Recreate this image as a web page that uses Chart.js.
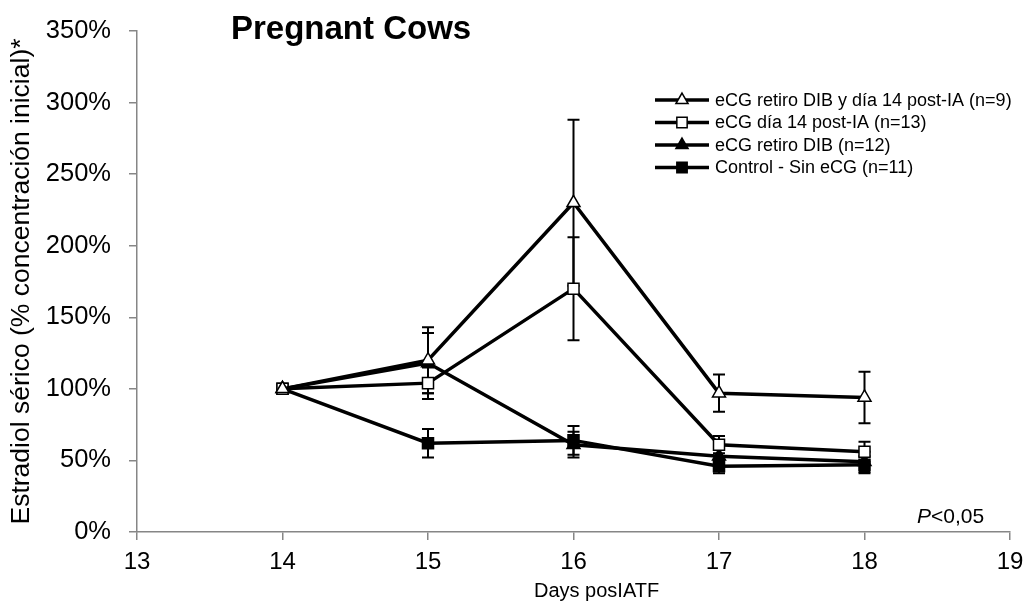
<!DOCTYPE html>
<html>
<head>
<meta charset="utf-8">
<script src="https://cdn.jsdelivr.net/npm/chart.js@4.4.1/dist/chart.umd.min.js"></script>
<style>
  body { margin: 0; background: #fff; font-family: "Liberation Sans", Arial, sans-serif; }
  #wrap { position: relative; width: 1034px; height: 603px; }
  #title { position: absolute; left: 231px; top: 11px; font-size: 33px; line-height: 1; font-weight: bold; color: #000; }
  #pval { position: absolute; left: 917px; top: 505px; font-size: 21px; line-height: 1; color: #000; }
  #xtitle { position: absolute; left: 534px; top: 580px; font-size: 20px; line-height: 1; color: #000; }
</style>
</head>
<body>
<div id="wrap">
  <canvas id="chart" width="1034" height="603"></canvas>
  <div id="title">Pregnant Cows</div>
  <div id="pval"><i>P</i>&lt;0,05</div>
  <div id="xtitle">Days posIATF</div>
</div>
<script>
// Days after IATF
const days = [14, 15, 16, 17, 18];

// Series: % of initial estradiol concentration, with error (+/-)
const seriesNames = [
  'eCG retiro DIB y día 14 post-IA (n=9)',
  'eCG día 14 post-IA (n=13)',
  'eCG retiro DIB (n=12)',
  'Control - Sin eCG (n=11)'
];
const bothValues = [100, 120, 230, 97, 94];
const bothErrors = [0, 23, 58, 13, 18];
const day14Values = [100, 104, 170, 61, 56];
const day14Errors = [0, 11, 36, 6, 7];
const dibValues = [100, 118, 61, 53, 49];
const dibErrors = [0, 21, 9, 7, 7];
const controlValues = [100, 62, 64, 46, 47];
const controlErrors = [0, 10, 10, 5, 6];

const yTicks = [0, 50, 100, 150, 200, 250, 300, 350];

function toPoints(vals) {
  return vals.map((v, i) => ({ x: days[i], y: v }));
}

function makeSet(label, vals, errs, style, fill) {
  return {
    label: label,
    data: toPoints(vals),
    errors: errs,
    borderColor: '#000',
    borderWidth: 3.5,
    pointStyle: style,
    pointRadius: style === 'triangle' ? 7.5 : 7.8,
    pointBackgroundColor: fill,
    pointBorderColor: '#000',
    pointBorderWidth: 1.5,
    tension: 0
  };
}

const datasets = [
  makeSet(seriesNames[0], bothValues, bothErrors, 'triangle', '#fff'),
  makeSet(seriesNames[1], day14Values, day14Errors, 'rect', '#fff'),
  makeSet(seriesNames[2], dibValues, dibErrors, 'triangle', '#000'),
  makeSet(seriesNames[3], controlValues, controlErrors, 'rect', '#000')
];

// error bars drawn from the scales
const errorBars = {
  id: 'errorBars',
  beforeDatasetsDraw(chart) {
    const ctx = chart.ctx;
    const xs = chart.scales.x, ys = chart.scales.y;
    ctx.save();
    ctx.strokeStyle = '#000';
    ctx.lineWidth = 2;
    chart.data.datasets.forEach(ds => {
      ds.data.forEach((p, i) => {
        const e = ds.errors[i];
        if (!e) return;
        const x = xs.getPixelForValue(p.x);
        const top = ys.getPixelForValue(p.y + e);
        const bot = ys.getPixelForValue(p.y - e);
        ctx.beginPath();
        ctx.moveTo(x, top); ctx.lineTo(x, bot);
        ctx.moveTo(x - 6, top); ctx.lineTo(x + 6, top);
        ctx.moveTo(x - 6, bot); ctx.lineTo(x + 6, bot);
        ctx.stroke();
      });
    });
    ctx.restore();
  }
};

// legend with line + marker, like the spreadsheet one
const lineLegend = {
  id: 'lineLegend',
  afterDraw(chart) {
    const ctx = chart.ctx;
    ctx.save();
    chart.data.datasets.forEach((ds, i) => {
      const y = 100 + i * 22.5;
      ctx.strokeStyle = '#000';
      ctx.lineWidth = 3.5;
      ctx.beginPath();
      ctx.moveTo(655, y); ctx.lineTo(709, y);
      ctx.stroke();
      ctx.fillStyle = ds.pointBackgroundColor;
      ctx.strokeStyle = '#000';
      ctx.lineWidth = 1.5;
      Chart.helpers.drawPoint(ctx, { pointStyle: ds.pointStyle, radius: ds.pointRadius - 0.5, borderWidth: 1.5 }, 682, y);
      ctx.fillStyle = '#000';
      ctx.font = '18px "Liberation Sans", Arial, sans-serif';
      ctx.textBaseline = 'middle';
      ctx.fillText(ds.label, 715, y + 1);
    });
    ctx.restore();
  }
};

new Chart(document.getElementById('chart'), {
  type: 'line',
  data: { datasets: datasets },
  plugins: [errorBars, lineLegend],
  options: {
    responsive: false,
    animation: false,
    layout: { padding: { top: 31, right: 24, left: 0, bottom: 0 } },
    plugins: { legend: { display: false }, tooltip: { enabled: false } },
    scales: {
      x: {
        type: 'linear',
        min: 13, max: 19,
        afterFit(s) { s.height = 71; },
        ticks: { stepSize: 1, color: '#000', padding: 8, font: { size: 24, family: '"Liberation Sans", Arial' } },
        grid: { drawOnChartArea: false, drawTicks: true, tickLength: 8, color: '#868686', lineWidth: 1.5 },
        border: { color: '#868686', width: 1.5 }
      },
      y: {
        type: 'linear',
        min: 0, max: 350,
        afterFit(s) { s.width = 137; s.paddingTop = 0; s.paddingBottom = 0; },
        afterBuildTicks(s) { s.ticks = yTicks.map(v => ({ value: v })); },
        ticks: { color: '#000', padding: 18, font: { size: 25.5, family: '"Liberation Sans", Arial' }, callback: v => v + '%' },
        grid: { drawOnChartArea: false, drawTicks: true, tickLength: 8, color: '#868686', lineWidth: 1.5 },
        border: { color: '#868686', width: 1.5 },
        title: { display: true, text: 'Estradiol sérico (% concentración inicial)*', color: '#000', padding: { top: 6, bottom: 0 }, font: { size: 26.5, family: '"Liberation Sans", Arial' } }
      }
    }
  }
});
</script>
</body>
</html>
